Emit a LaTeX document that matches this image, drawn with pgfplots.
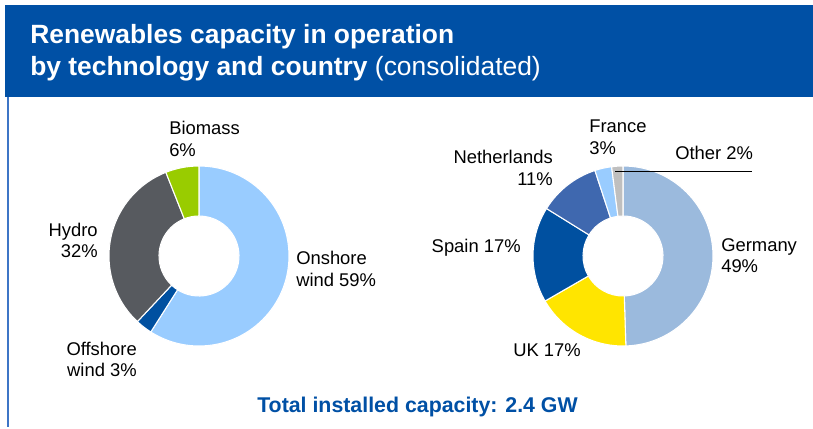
\documentclass[border=0pt]{standalone}
\usepackage{pgfplots}
\pgfplotsset{compat=1.18}
\usepackage{pgfplotstable}
\usepackage{fontspec}
\setmainfont{Liberation Sans}

\definecolor{hdrblue}{HTML}{0050A5}
\definecolor{onshore}{HTML}{99CCFF}
\definecolor{offshore}{HTML}{0050A0}
\definecolor{hydro}{HTML}{575A5F}
\definecolor{biomass}{HTML}{99CC00}
\definecolor{germany}{HTML}{9BBADD}
\definecolor{uk}{HTML}{FFE500}
\definecolor{spain}{HTML}{0050A0}
\definecolor{netherlands}{HTML}{3F68AF}
\definecolor{france}{HTML}{99CCFF}
\definecolor{other}{HTML}{BFBFBF}
\definecolor{leftline}{HTML}{3D75C6}

\pgfplotstableread{
label value color
Onshore 59 onshore
Offshore 3 offshore
Hydro 32 hydro
Biomass 6 biomass
}\techtable

\pgfplotstableread{
label value color
Germany 49 germany
UK 17 uk
Spain 17 spain
Netherlands 11 netherlands
France 3 france
Other 2 other
}\countrytable

% one slice: color, start angle, end angle, outer start x,y, inner end x,y
\newcommand{\donutslice}[7]{%
  \path[fill=#1, draw=white, line width=0.8pt, line join=round]
    (axis cs:#4,#5) arc[start angle=#2, end angle=#3, radius=67.5pt]
    -- (axis cs:#6,#7) arc[start angle=#3, end angle=#2, radius=30pt]
    -- cycle;}

% build the slice list of table #1 centred at (#2,#3) into macro #4
% radii in axis units: 90 and 40
\newcommand{\builddonut}[4]{%
  \pgfplotstablegetrowsof{#1}%
  \pgfmathtruncatemacro{\nlast}{\pgfplotsretval-1}%
  \gdef\dtot{0}%
  \foreach \k in {0,...,\nlast}{%
    \pgfplotstablegetelem{\k}{value}\of#1%
    \pgfmathsetmacro{\tmp}{\dtot+\pgfplotsretval}%
    \xdef\dtot{\tmp}%
  }%
  \gdef\dcum{0}%
  \gdef#4{}%
  \foreach \k in {0,...,\nlast}{%
    \pgfplotstablegetelem{\k}{value}\of#1%
    \pgfmathsetmacro{\va}{\pgfplotsretval}%
    \pgfplotstablegetelem{\k}{color}\of#1%
    \edef\col{\pgfplotsretval}%
    \pgfmathsetmacro{\ta}{90-360*(\dcum/\dtot)}%
    \pgfmathsetmacro{\tb}{90-360*((\dcum+\va)/\dtot)}%
    \pgfmathsetmacro{\ox}{#2+90*cos(\ta)}%
    \pgfmathsetmacro{\oy}{#3+90*sin(\ta)}%
    \pgfmathsetmacro{\ix}{#2+40*cos(\tb)}%
    \pgfmathsetmacro{\iy}{#3+40*sin(\tb)}%
    \xdef#4{\unexpanded\expandafter{#4}\noexpand\donutslice{\col}{\ta}{\tb}{\ox}{\oy}{\ix}{\iy}}%
    \pgfmathsetmacro{\tmp}{\dcum+\va}%
    \xdef\dcum{\tmp}%
  }%
}

\builddonut{\techtable}{199}{171}{\leftdonut}
\builddonut{\countrytable}{623}{171}{\rightdonut}

\newcommand{\lab}[4]{\node[anchor=#3, inner sep=0pt, font=\fontsize{13.8}{16}\selectfont] at (axis cs:#1,#2) {#4};}

\begin{document}
\begin{tikzpicture}
\begin{axis}[
  scale only axis,
  width=609.75pt, height=320.25pt,
  xmin=0, xmax=813, ymin=0, ymax=427,
  hide axis, clip=false,
]
\pgfplotsextra{%
  \path[fill=white] (axis cs:0,0) rectangle (axis cs:813,427);
  \path[fill=hdrblue] (axis cs:5,330) rectangle (axis cs:813,422);
  \draw[leftline, line width=1.5pt] (axis cs:7.5,0) -- (axis cs:7.5,330);
  \node[anchor=base west, inner sep=0pt, text=white, font=\fontsize{19.8}{22}\selectfont\bfseries] at (axis cs:30,383) {Renewables capacity in operation};
  \node[anchor=base west, inner sep=0pt, text=white, font=\fontsize{19.8}{22}\selectfont] at (axis cs:30,351) {\textbf{by technology and country} (consolidated)};
  \leftdonut
  \rightdonut
  \lab{169}{292}{base west}{Biomass}
  \lab{169}{270}{base west}{6\%}
  \lab{98}{190}{base east}{Hydro}
  \lab{98}{169}{base east}{32\%}
  \lab{296}{162}{base west}{Onshore}
  \lab{296}{140}{base west}{wind 59\%}
  \lab{137}{71}{base east}{Offshore}
  \lab{137}{50}{base east}{wind 3\%}
  \lab{589}{294}{base west}{France}
  \lab{589}{272}{base west}{3\%}
  \lab{553}{263}{base east}{Netherlands}
  \lab{553}{241}{base east}{11\%}
  \lab{675}{267}{base west}{Other 2\%}
  \lab{721}{175}{base west}{Germany}
  \lab{721}{154}{base west}{49\%}
  \lab{521}{174}{base east}{Spain 17\%}
  \lab{513}{70}{base west}{UK 17\%}
  \node[anchor=base, inner sep=0pt, text=hdrblue, font=\fontsize{16}{19}\selectfont\bfseries] at (axis cs:417.5,14) {Total installed capacity: 2.4 GW};
}
\addplot[black, line width=0.75pt] coordinates {(615,255) (752,255)};
\end{axis}
\end{tikzpicture}
\end{document}
